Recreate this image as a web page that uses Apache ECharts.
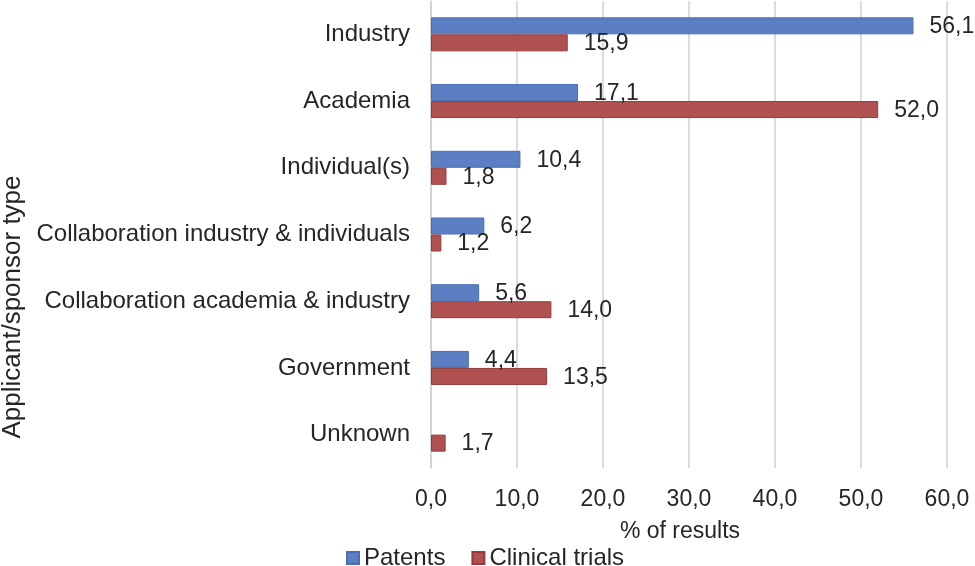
<!DOCTYPE html>
<html>
<head>
<meta charset="utf-8">
<script src="https://cdn.jsdelivr.net/npm/echarts@6/dist/echarts.min.js"></script>
<style>
  html, body { margin: 0; padding: 0; background: #fff; }
  #chart { width: 975px; height: 566px; }
</style>
</head>
<body>
<div id="chart"></div>
<script>
// categories, top to bottom
var categories = ['Industry', 'Academia', 'Individual(s)', 'Collaboration industry & individuals',
    'Collaboration academia & industry', 'Government', 'Unknown'];
var patents = [56.1, 17.1, 10.4, 6.2, 5.6, 4.4, null];
var clinicalTrials = [15.9, 52.0, 1.8, 1.2, 14.0, 13.5, 1.7];
var xTicks = { min: 0, max: 60, interval: 10 };

var fontFam = '"Liberation Sans", Arial, sans-serif';
var txt = '#262626';

// 12.3 -> "12,3"
function comma(v) {
    return Number(v).toFixed(1).replace('.', ',');
}

var myChart = echarts.init(document.getElementById('chart'));
myChart.setOption({
    animation: false,
    textStyle: { fontFamily: fontFam },
    grid: {
        left: 431,
        right: 28,
        top: 1,
        bottom: 98
    },
    legend: {
        left: 341,
        top: 541,
        itemWidth: 12,
        itemHeight: 12,
        itemGap: 26,
        icon: 'rect',
        textStyle: { fontSize: 24, color: txt, fontFamily: fontFam },
        data: ['Patents', 'Clinical trials']
    },
    xAxis: {
        type: 'value',
        min: xTicks.min,
        max: xTicks.max,
        interval: xTicks.interval,
        name: '% of results',
        nameLocation: 'middle',
        nameGap: 52,
        nameTextStyle: { fontSize: 23, color: txt, fontFamily: fontFam, padding: [0, 18, 0, 0] },
        axisLine: { show: false },
        axisTick: { show: false },
        axisLabel: {
            fontSize: 23,
            color: txt,
            margin: 20,
            formatter: comma
        },
        splitLine: { lineStyle: { color: '#d0d0d0', width: 1.5 } }
    },
    yAxis: {
        type: 'category',
        inverse: true,
        data: categories,
        axisLine: { show: true, lineStyle: { color: '#d0d0d0', width: 1.5 } },
        axisTick: { show: false },
        axisLabel: { fontSize: 24, color: txt, margin: 21 }
    },
    graphic: [{
        type: 'text',
        x: 13,
        y: 307,
        rotation: Math.PI / 2,
        style: {
            text: 'Applicant/sponsor type',
            fontSize: 26,
            fontFamily: fontFam,
            fill: txt,
            align: 'center',
            verticalAlign: 'middle'
        }
    }],
    series: [{
        name: 'Patents',
        type: 'bar',
        data: patents,
        barWidth: 17,
        barGap: '0%',
        itemStyle: { color: '#5b7fc2', borderColor: '#4a6eb3', borderWidth: 1 },
        label: {
            show: true,
            position: 'right',
            distance: 16,
            offset: [0, 1],
            fontSize: 23,
            color: txt,
            formatter: function (p) { return comma(p.value); }
        }
    }, {
        name: 'Clinical trials',
        type: 'bar',
        data: clinicalTrials,
        barWidth: 17,
        itemStyle: { color: '#b05151', borderColor: '#943a3a', borderWidth: 1 },
        label: {
            show: true,
            position: 'right',
            distance: 16,
            offset: [0, 1],
            fontSize: 23,
            color: txt,
            formatter: function (p) { return comma(p.value); }
        }
    }]
});
</script>
</body>
</html>
